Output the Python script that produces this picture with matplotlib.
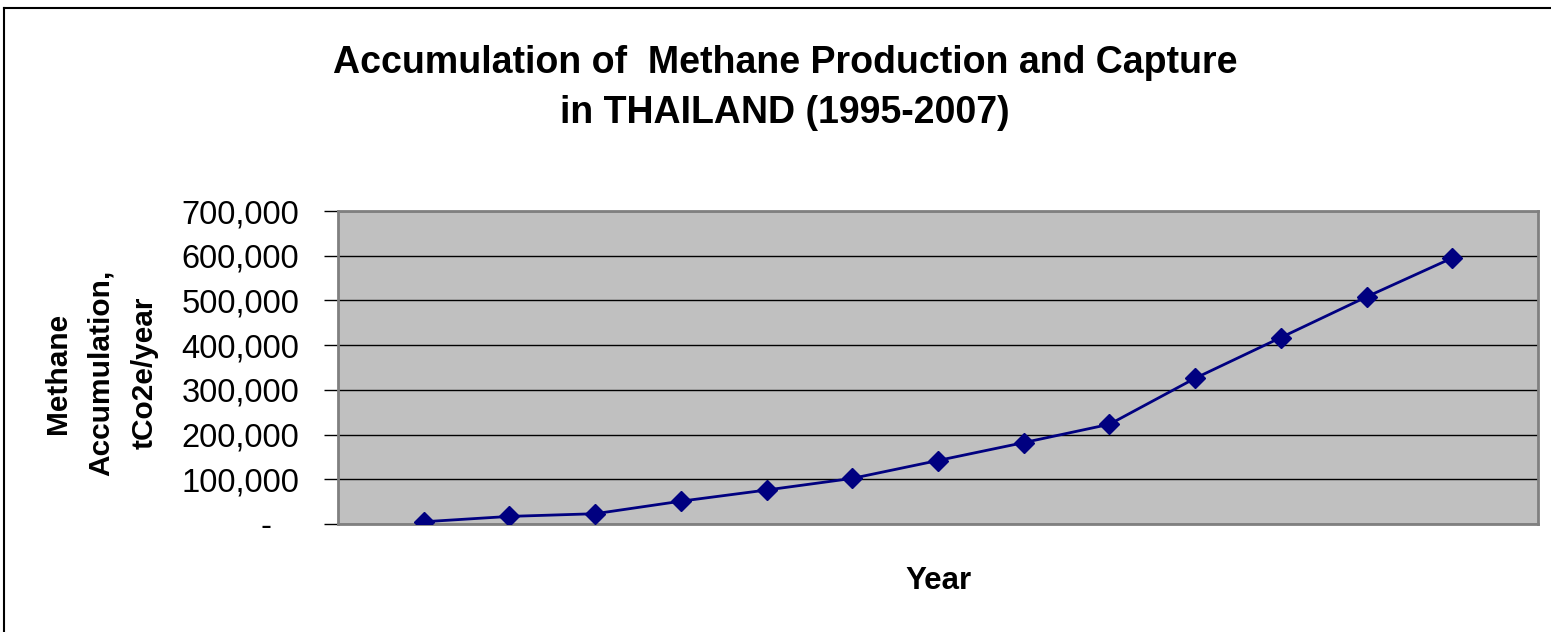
import numpy as np
import matplotlib
matplotlib.use("Agg")
import matplotlib.pyplot as plt
from matplotlib.lines import Line2D
from matplotlib.ticker import FuncFormatter

plt.rcParams['font.family'] = ['Liberation Sans', 'DejaVu Sans']

# data (tCO2e/year)
years = [1995, 1996, 1997, 1998, 1999, 2000, 2001, 2002, 2003, 2004, 2005, 2006, 2007]
methane = [5000, 17000, 23000, 51000, 76000, 102000, 142000, 182000,
           223000, 326000, 417000, 508000, 595000]
y_ticks = [0, 100000, 200000, 300000, 400000, 500000, 600000, 700000]

fig = plt.figure(figsize=(15.51, 6.32), dpi=100)
ax = fig.add_axes([338 / 1551, 108 / 632, 1200 / 1551, 313 / 632])

pos = np.arange(1, len(years) + 1)
ax.plot(pos, methane, color="#000080", lw=2, marker="D", ms=10.5, zorder=3)

ax.set_xlim(0, len(years) + 1)
ax.set_ylim(0, 700000)
ax.set_facecolor("#C0C0C0")
ax.set_xticks([])
ax.set_yticks(y_ticks)
# excel accounting style: zero shown as a dash
ax.yaxis.set_major_formatter(FuncFormatter(lambda v, p: "-   " if v == 0 else f"{int(v):,}"))
ax.tick_params(axis="y", labelsize=23.5, length=10, width=1, color="#000000", pad=18)
ax.grid(axis="y", color="#000000", lw=1)
ax.set_axisbelow(True)
for s in ["top", "right", "bottom", "left"]:
    ax.spines[s].set_color("#808080")
    ax.spines[s].set_linewidth(2)

ax.set_xlabel("Year", fontsize=22.5, fontweight="bold", labelpad=30)
fig.text(101 / 1551, (632 - 373) / 632,
         "Methane\nAccumulation,\ntCo2e/year", rotation=90, ha="center", va="center",
         fontsize=21.5, fontweight="bold", linespacing=1.7, multialignment="center")

fig.text(0.506, (632 - 88) / 632, "Accumulation of  Methane Production and Capture\nin THAILAND (1995-2007)",
         ha="center", va="center", fontsize=27, fontweight="bold", linespacing=1.5)

# chart frame
fig.add_artist(Line2D([4 / 1551, 1.0], [1 - 8 / 632, 1 - 8 / 632], color="black", lw=1.5))
fig.add_artist(Line2D([4 / 1551, 4 / 1551], [0, 1 - 8 / 632], color="black", lw=1.5))

fig.savefig("out.png", dpi=100)
